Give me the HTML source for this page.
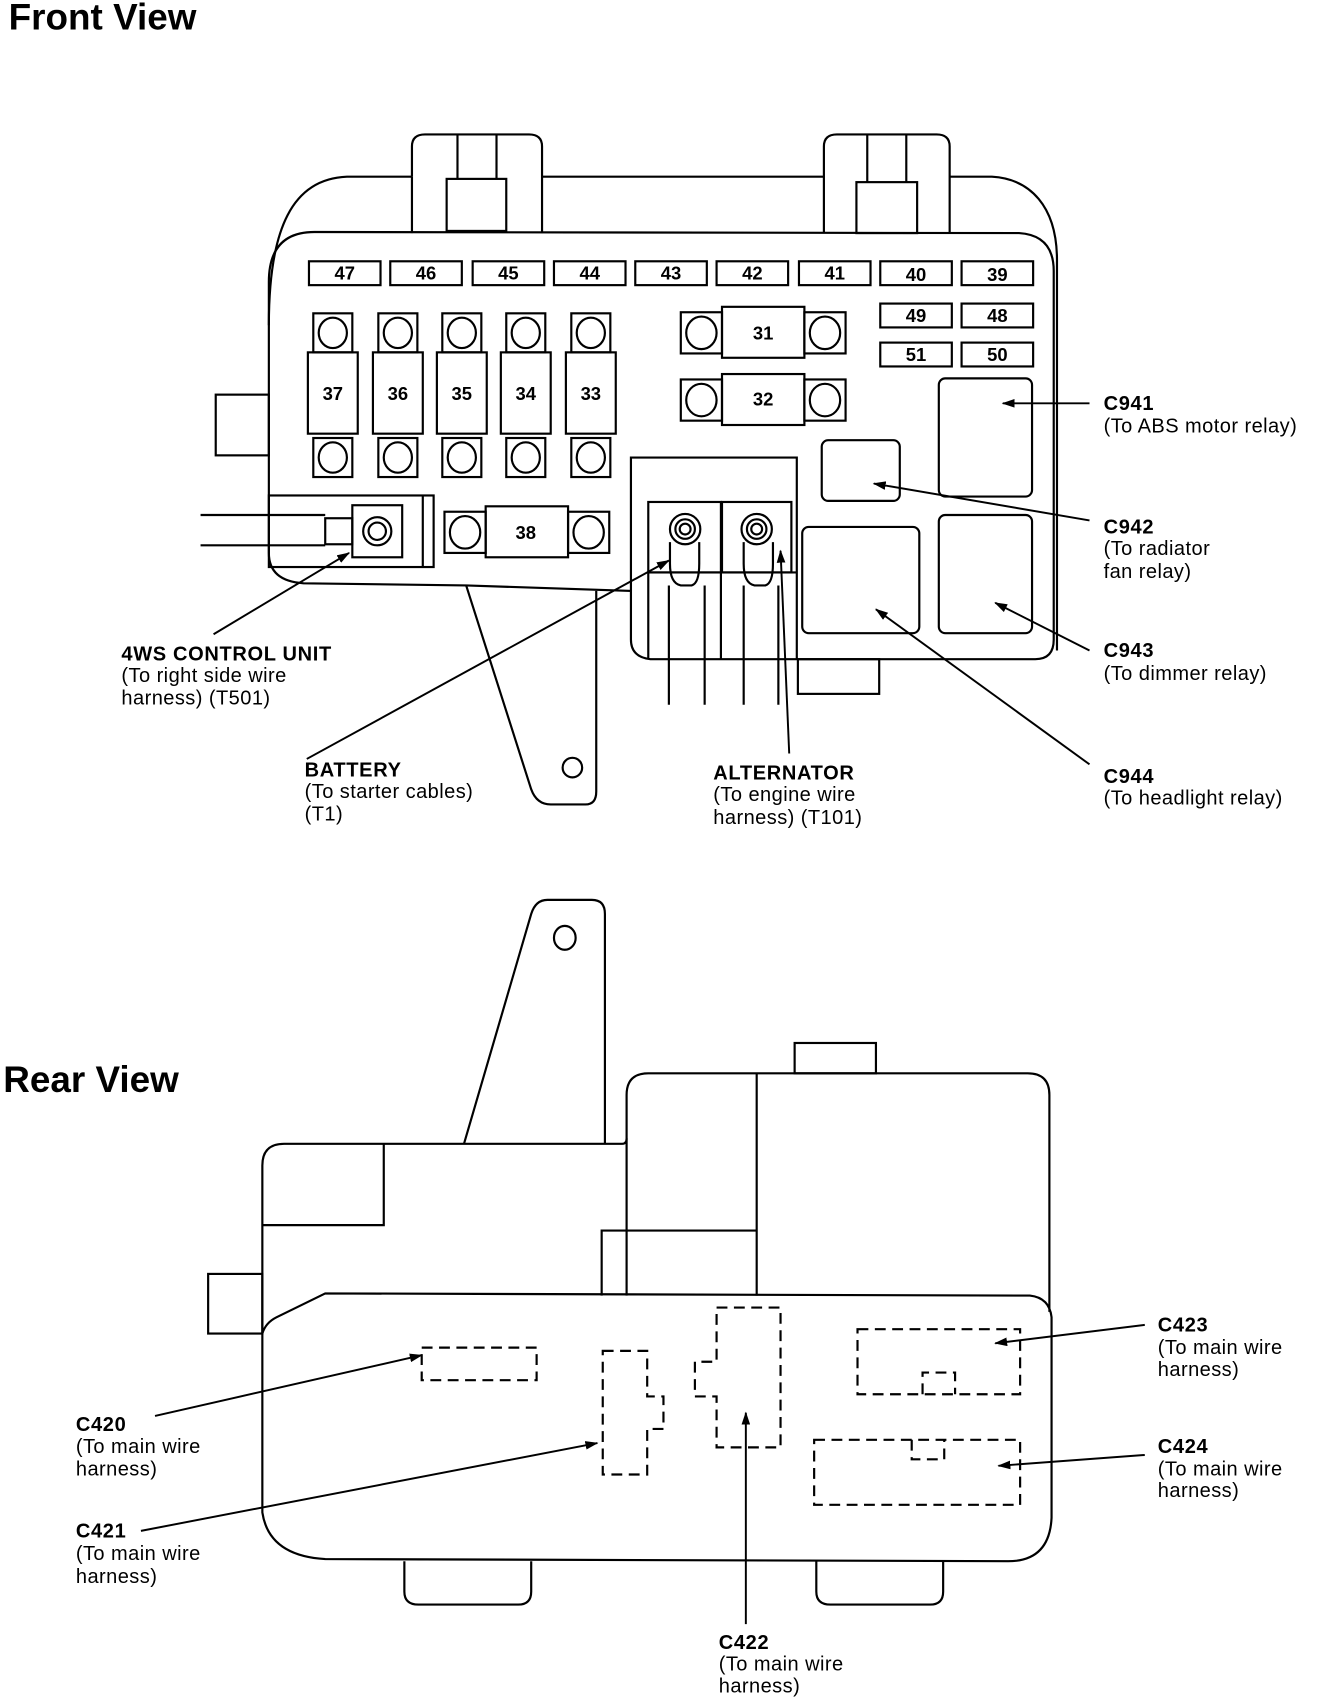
<!DOCTYPE html>
<html><head><meta charset="utf-8"><style>
html,body{margin:0;padding:0;background:#fff}
svg{display:block}
text{font-family:"Liberation Sans",Arial,sans-serif;fill:#000}
.t{font-size:18.5px;letter-spacing:0.4px}
.b{font-size:18.5px;font-weight:bold;letter-spacing:0.6px}
.n{font-size:17px;font-weight:bold}
</style></head><body>
<svg width="1328" height="1700" viewBox="0 0 1225 1568" preserveAspectRatio="none" xmlns="http://www.w3.org/2000/svg">
<defs><marker id="a" markerWidth="12" markerHeight="8" refX="11" refY="4" orient="auto" markerUnits="userSpaceOnUse"><path d="M0,0 L12,4 L0,8 Z" fill="#000"/></marker></defs>
<g fill="none" stroke="#000" stroke-width="2">
<path d="M248,300 C248,210 270,165 320,163 L380,163 M500,163 L760,163 M876,163 L915,163 C950,165 975,190 975,240 L975,600"/>
<path d="M380,163 L380,135 Q380,124 392,124 L488,124 Q500,124 500,135 L500,215"/>
<path d="M380,163 L380,215"/>
<line x1="422" y1="124" x2="422" y2="165"/><line x1="458" y1="124" x2="458" y2="165"/>
<rect x="412" y="165" width="55" height="48"/>
<path d="M760,215 L760,135 Q760,124 772,124 L864,124 Q876,124 876,135 L876,215"/>
<line x1="800" y1="124" x2="800" y2="168"/><line x1="836" y1="124" x2="836" y2="168"/>
<rect x="790" y="168" width="56" height="47"/>
<path d="M248,260 Q248,214 290,214 L940,215 Q972,217 972,250 L972,590 Q972,608 955,608 L600,608 Q582,606 582,590 L582,545 L430,540 L280,538 Q248,536 248,510 Z"/>
<rect x="199" y="364" width="49" height="56"/>
<path d="M430,540 L490,728 Q495,742 508,742 L540,742 Q550,742 550,730 L550,545"/>
<circle cx="528" cy="708" r="9"/>
<line x1="185" y1="475" x2="300" y2="475"/><line x1="185" y1="503" x2="300" y2="503"/>
<rect x="248" y="457" width="152" height="66"/>
<line x1="390" y1="457" x2="390" y2="523"/>
<rect x="325" y="466" width="46" height="48"/>
<rect x="300" y="478" width="25" height="24"/>
<circle cx="348" cy="490" r="13"/><circle cx="348" cy="490" r="8"/>
<rect x="285" y="241" width="66" height="22"/><rect x="360" y="241" width="66" height="22"/>
<rect x="436" y="241" width="66" height="22"/><rect x="511" y="241" width="66" height="22"/>
<rect x="586" y="241" width="66" height="22"/><rect x="661" y="241" width="66" height="22"/>
<rect x="737" y="241" width="66" height="22"/><rect x="812" y="241" width="66" height="22"/>
<rect x="887" y="241" width="66" height="22"/>
<rect x="812" y="280" width="66" height="22"/><rect x="887" y="280" width="66" height="22"/>
<rect x="812" y="316" width="66" height="22"/><rect x="887" y="316" width="66" height="22"/>
<g id="bf">
<rect x="289" y="289" width="36" height="36"/><ellipse cx="307" cy="307" rx="13" ry="14"/>
<rect x="284" y="325" width="46" height="75"/>
<rect x="289" y="404" width="36" height="36"/><ellipse cx="307" cy="422" rx="13" ry="14"/>
</g>
<use href="#bf" x="60"/><use href="#bf" x="119"/><use href="#bf" x="178"/><use href="#bf" x="238"/>
<g id="mf">
<rect x="628" y="288" width="38" height="38"/><ellipse cx="647" cy="307" rx="14" ry="15"/>
<rect x="666" y="283" width="76" height="47"/>
<rect x="742" y="288" width="38" height="38"/><ellipse cx="761" cy="307" rx="14" ry="15"/>
</g>
<use href="#mf" y="62"/>
<use href="#mf" x="-218" y="184"/>
<path d="M582,545 L582,422 L735,422 L735,608"/>
<rect x="598" y="463" width="67" height="65"/>
<rect x="666" y="463" width="64" height="65"/>
<line x1="598" y1="528" x2="735" y2="528"/>
<circle cx="632" cy="488" r="14"/><circle cx="632" cy="488" r="9"/><circle cx="632" cy="488" r="5"/>
<circle cx="698" cy="488" r="14"/><circle cx="698" cy="488" r="9"/><circle cx="698" cy="488" r="5"/>
<path d="M618,500 L618,520 Q618,538 628,540 L638,540 Q645,538 645,520 L645,500"/>
<path d="M686,500 L686,520 Q686,538 696,540 L706,540 Q713,538 713,520 L713,500"/>
<line x1="617" y1="540" x2="617" y2="650"/><line x1="650" y1="540" x2="650" y2="650"/>
<line x1="686" y1="540" x2="686" y2="650"/><line x1="718" y1="540" x2="718" y2="650"/>
<line x1="598" y1="528" x2="598" y2="608"/>
<line x1="665" y1="528" x2="665" y2="608"/>
<rect x="866" y="349" width="86" height="109" rx="6"/>
<rect x="758" y="406" width="72" height="56" rx="6"/>
<rect x="866" y="475" width="86" height="109" rx="6"/>
<rect x="740" y="486" width="108" height="98" rx="6"/>
<rect x="736" y="608" width="75" height="32"/>
<path d="M428,1055 L490,843 Q494,830 505,830 L546,830 Q558,830 558,843 L558,1055"/>
<ellipse cx="521" cy="865" rx="10" ry="11"/>
<path d="M578,1195 L578,1010 Q578,990 598,990 L948,990 Q968,990 968,1010 L968,1210"/>
<line x1="698" y1="990" x2="698" y2="1195"/>
<rect x="733" y="962" width="75" height="28"/>
<path d="M555,1195 L555,1135 L698,1135"/>
<path d="M242,1230 L242,1075 Q242,1055 262,1055 L574,1055 Q578,1055 578,1050"/>
<path d="M242,1130 L354,1130 L354,1055"/>
<rect x="192" y="1175" width="50" height="55"/>
<path d="M242,1230 Q245,1220 255,1215 L300,1193 L950,1195 Q968,1197 970,1215 L970,1400 Q968,1440 930,1440 L300,1438 Q248,1435 242,1395 Z"/>
<path d="M373,1440 L373,1468 Q373,1480 386,1480 L478,1480 Q490,1480 490,1468 L490,1440"/>
<path d="M753,1440 L753,1468 Q753,1480 766,1480 L858,1480 Q870,1480 870,1468 L870,1440"/>
<g stroke-dasharray="10,6">
<rect x="389" y="1243" width="106" height="30"/>
<path d="M556,1246 L597,1246 L597,1288 L612,1288 L612,1318 L597,1318 L597,1360 L556,1360 Z"/>
<path d="M661,1206 L720,1206 L720,1335 L661,1335 L661,1288 L641,1288 L641,1256 L661,1256 Z"/>
<rect x="791" y="1226" width="150" height="60"/>
<path d="M851,1286 L851,1266 L881,1266 L881,1286"/>
<rect x="751" y="1328" width="190" height="60"/>
<path d="M841,1328 L841,1346 L871,1346 L871,1328"/>
</g>
</g>
<g stroke="#000" stroke-width="1.8" fill="none" marker-end="url(#a)">
<line x1="1005" y1="372" x2="925" y2="372"/>
<line x1="1005" y1="480" x2="806" y2="446"/>
<line x1="1005" y1="600" x2="918" y2="556"/>
<line x1="1005" y1="705" x2="808" y2="562"/>
<line x1="197" y1="585" x2="322" y2="510"/>
<line x1="283" y1="700" x2="617" y2="517"/>
<line x1="728" y1="695" x2="720" y2="508"/>
<line x1="143" y1="1306" x2="389" y2="1250"/>
<line x1="130" y1="1412" x2="551" y2="1331"/>
<line x1="688" y1="1498" x2="688" y2="1303"/>
<line x1="1056" y1="1222" x2="918" y2="1239"/>
<line x1="1056" y1="1342" x2="921" y2="1352"/>
</g>
<text x="8" y="27" style="font-size:34px;font-weight:bold">Front View</text>
<text x="3" y="1007" style="font-size:34px;font-weight:bold">Rear View</text>
<g class="n" text-anchor="middle">
<text x="318" y="258" class="n">47</text><text x="393" y="258" class="n">46</text><text x="469" y="258" class="n">45</text>
<text x="544" y="258" class="n">44</text><text x="619" y="258" class="n">43</text><text x="694" y="258" class="n">42</text>
<text x="770" y="258" class="n">41</text><text x="845" y="259" class="n">40</text><text x="920" y="259" class="n">39</text>
<text x="845" y="297" class="n">49</text><text x="920" y="297" class="n">48</text>
<text x="845" y="333" class="n">51</text><text x="920" y="333" class="n">50</text>
<text x="307" y="369" class="n">37</text><text x="367" y="369" class="n">36</text><text x="426" y="369" class="n">35</text>
<text x="485" y="369" class="n">34</text><text x="545" y="369" class="n">33</text>
<text x="704" y="313" class="n">31</text><text x="704" y="374" class="n">32</text><text x="485" y="497" class="n">38</text>
</g>
<text x="1018" y="378" class="b">C941</text><text x="1018" y="399" class="t">(To ABS motor relay)</text>
<text x="1018" y="492" class="b">C942</text><text x="1018" y="512" class="t">(To radiator</text><text x="1018" y="533" class="t">fan relay)</text>
<text x="1018" y="606" class="b">C943</text><text x="1018" y="627" class="t">(To dimmer relay)</text>
<text x="1018" y="722" class="b">C944</text><text x="1018" y="742" class="t">(To headlight relay)</text>
<text x="112" y="609" class="b">4WS CONTROL UNIT</text><text x="112" y="629" class="t">(To right side wire</text><text x="112" y="650" class="t">harness) (T501)</text>
<text x="281" y="716" class="b">BATTERY</text><text x="281" y="736" class="t">(To starter cables)</text><text x="281" y="757" class="t">(T1)</text>
<text x="658" y="719" class="b">ALTERNATOR</text><text x="658" y="739" class="t">(To engine wire</text><text x="658" y="760" class="t">harness) (T101)</text>
<text x="70" y="1320" class="b">C420</text><text x="70" y="1340" class="t">(To main wire</text><text x="70" y="1361" class="t">harness)</text>
<text x="70" y="1418" class="b">C421</text><text x="70" y="1439" class="t">(To main wire</text><text x="70" y="1460" class="t">harness)</text>
<text x="663" y="1521" class="b">C422</text><text x="663" y="1541" class="t">(To main wire</text><text x="663" y="1561" class="t">harness)</text>
<text x="1068" y="1228" class="b">C423</text><text x="1068" y="1249" class="t">(To main wire</text><text x="1068" y="1269" class="t">harness)</text>
<text x="1068" y="1340" class="b">C424</text><text x="1068" y="1361" class="t">(To main wire</text><text x="1068" y="1381" class="t">harness)</text>
</svg>
</body></html>
